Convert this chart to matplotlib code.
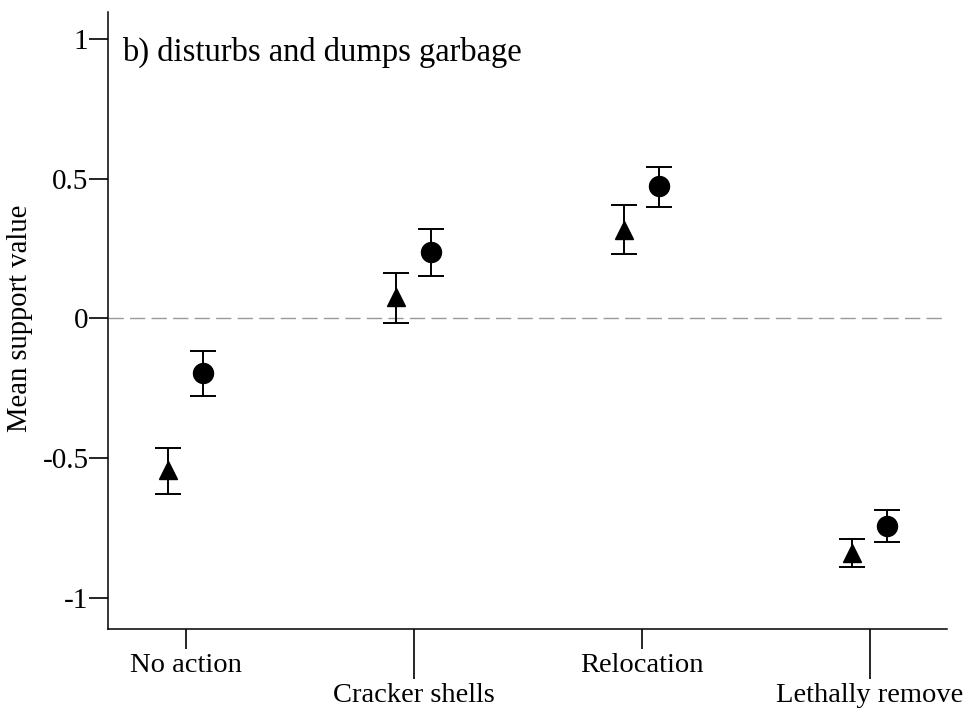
import numpy as np
import matplotlib
matplotlib.use("Agg")
import matplotlib.pyplot as plt

plt.rcParams['font.family'] = ['Liberation Serif', 'DejaVu Serif']

# data
categories = ['No action', 'Cracker shells', 'Relocation', 'Lethally remove']
tri_mean = [-0.54, 0.075, 0.317, -0.839]
tri_low = [-0.626, -0.017, 0.230, -0.889]
tri_high = [-0.464, 0.164, 0.405, -0.789]
circ_mean = [-0.194, 0.236, 0.472, -0.742]
circ_low = [-0.278, 0.152, 0.398, -0.800]
circ_high = [-0.116, 0.318, 0.543, -0.685]
yticks = [-1, -0.5, 0, 0.5, 1]
ytick_labels = ['-1', '-0.5', '0', '0.5', '1']

fig = plt.figure(figsize=(9.73, 7.12), dpi=100)
ax = fig.add_axes([0.111, 0.1166, 0.862, 0.866])

x = np.arange(len(categories))
off = 0.077

tri_mean = np.array(tri_mean)
circ_mean = np.array(circ_mean)
tri_err = [tri_mean - np.array(tri_low), np.array(tri_high) - tri_mean]
circ_err = [circ_mean - np.array(circ_low), np.array(circ_high) - circ_mean]

ax.axhline(0, color='#999999', lw=1.0, dashes=(11, 4.5), zorder=1)

ax.errorbar(x - off, tri_mean, yerr=tri_err, fmt='^', color='black',
            markersize=13.5, elinewidth=1.4, capsize=9.4, capthick=1.4, zorder=3)
ax.errorbar(x + off, circ_mean, yerr=circ_err, fmt='o', color='black',
            markersize=14.4, elinewidth=1.4, capsize=9.4, capthick=1.4, zorder=3)

ax.set_xlim(-0.342, 3.338)
ax.set_ylim(-1.110, 1.094)

# alternating tick lengths for category labels
ax.set_xticks(x[::2])
ax.set_xticklabels(categories[::2])
ax.set_xticks(x[1::2], minor=True)
ax.set_xticklabels(categories[1::2], minor=True)
ax.tick_params(axis='x', which='major', length=14.4, width=1.2, pad=3, labelsize=20.5)
ax.tick_params(axis='x', which='minor', length=36, width=1.2, pad=3, labelsize=20.5)

ax.set_yticks(yticks)
ax.set_yticklabels(ytick_labels)
ax.tick_params(axis='y', length=13.5, width=1.2, pad=0.5, labelsize=21)

for side in ['top', 'right']:
    ax.spines[side].set_visible(False)
for side in ['left', 'bottom']:
    ax.spines[side].set_linewidth(1.1)

ax.set_ylabel('Mean support value', fontsize=20.6)
ax.yaxis.set_label_coords(-0.0895, 0.504)
ax.text(0.017, 0.935, 'b) disturbs and dumps garbage', transform=ax.transAxes,
        fontsize=23.5, ha='left', va='center')

fig.savefig('out.png', dpi=100)
